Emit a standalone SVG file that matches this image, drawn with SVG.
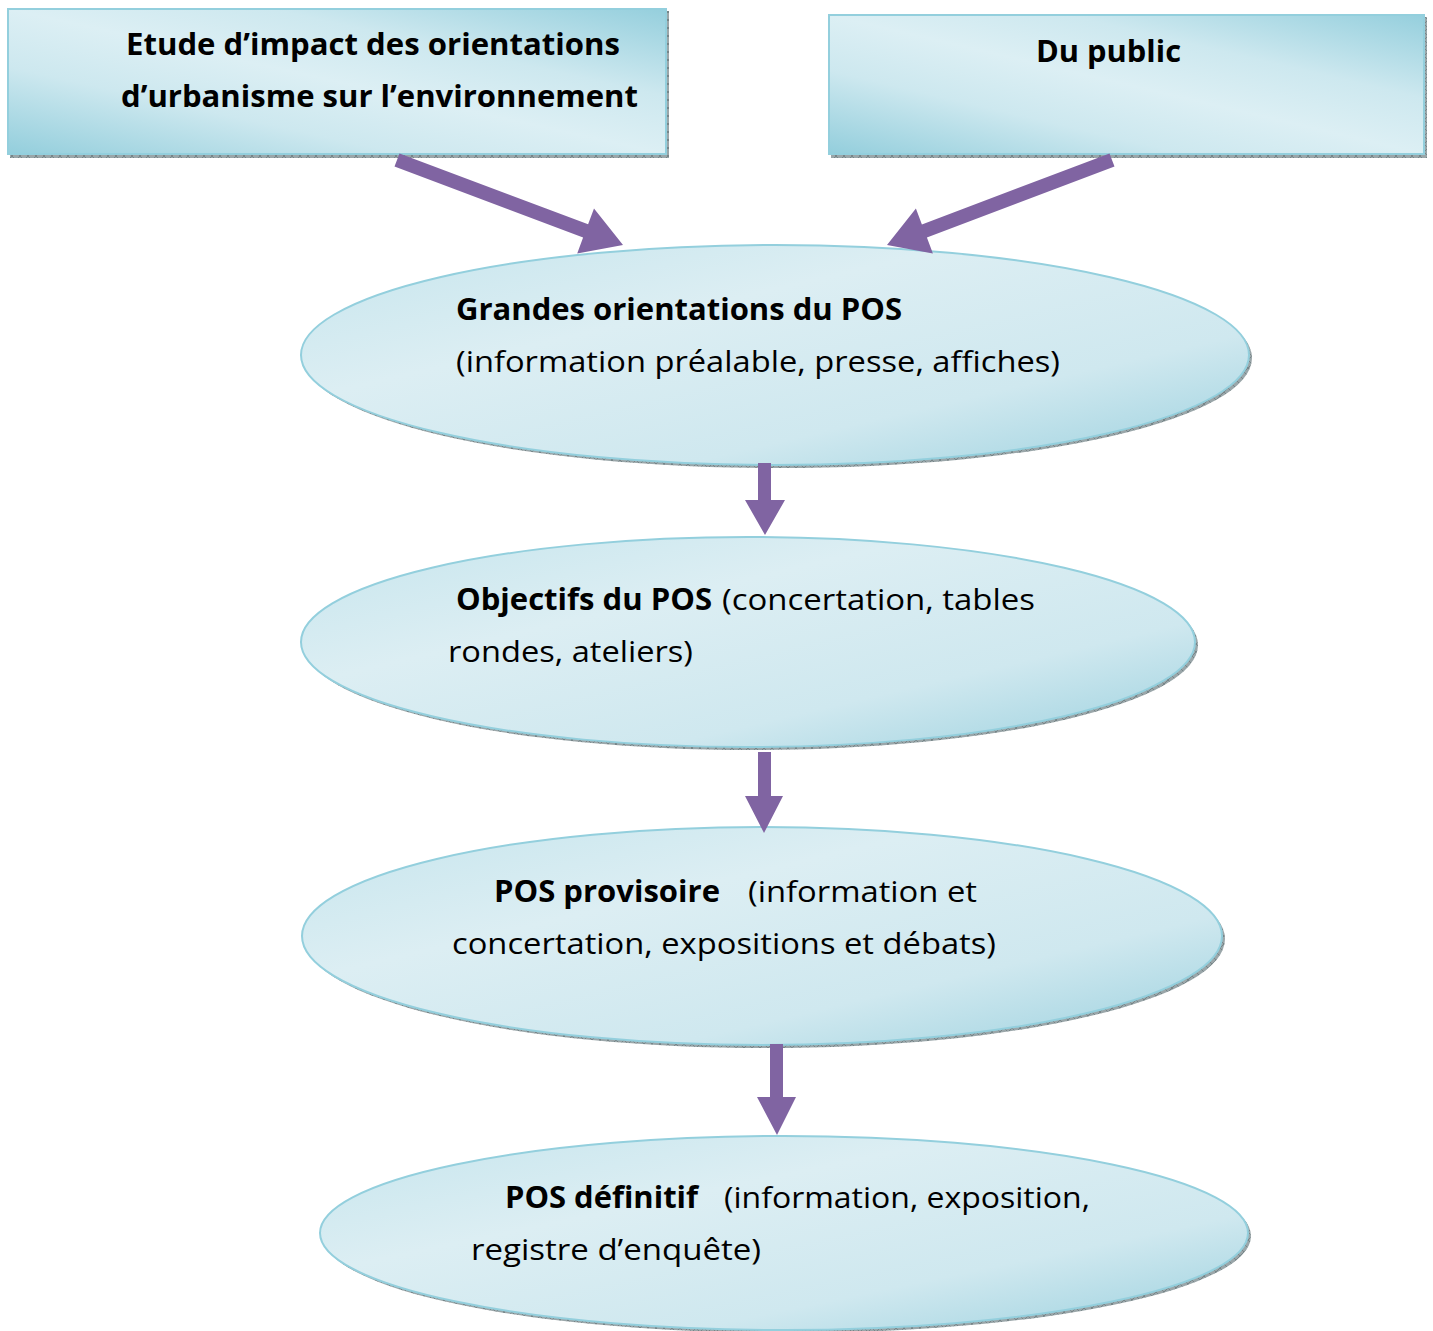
<svg xmlns="http://www.w3.org/2000/svg" width="1433" height="1331" viewBox="0 0 1433 1331">
<style>
.t{font-family:"Open Sans","Noto Sans","Liberation Sans",sans-serif;font-size:30px;fill:#000}
.b{font-weight:bold}
.shape{stroke:#93cfdd;stroke-width:2}
.arr{fill:#8064a2}
</style>
<defs>
<linearGradient id="gBox" x1="0" y1="1" x2="1" y2="0">
<stop offset="0" stop-color="#93cedc"/>
<stop offset="0.3" stop-color="#cde8ef"/>
<stop offset="0.5" stop-color="#dcefF4"/>
<stop offset="0.7" stop-color="#cde8ef"/>
<stop offset="1" stop-color="#95cfdd"/>
</linearGradient>
<linearGradient id="gEl" x1="0" y1="0" x2="1" y2="1">
<stop offset="0" stop-color="#c6e5ed"/>
<stop offset="0.35" stop-color="#dcEEF3"/>
<stop offset="0.7" stop-color="#cfe8ef"/>
<stop offset="1" stop-color="#9ad0de"/>
</linearGradient>
<pattern id="hatch" width="8" height="8" patternUnits="userSpaceOnUse">
<rect width="8" height="8" fill="#9aa6a9"/>
<path d="M0 0L8 8M8 0L0 8" stroke="#6f7c80" stroke-width="0.8"/>
</pattern>
</defs>

<g id="box-etude">
<rect x="10" y="11" width="659" height="147" fill="url(#hatch)"/>
<rect class="shape" x="8" y="9" width="658" height="145" fill="url(#gBox)"/>
<text class="t b" x="126" y="55" textLength="494" lengthAdjust="spacingAndGlyphs">Etude d’impact des orientations</text>
<text class="t b" x="121" y="107" textLength="517" lengthAdjust="spacingAndGlyphs">d’urbanisme sur l’environnement</text>
</g>

<g id="box-public">
<rect x="831" y="17" width="596" height="141" fill="url(#hatch)"/>
<rect class="shape" x="829" y="15" width="595" height="139" fill="url(#gBox)"/>
<text class="t b" x="1036" y="62" textLength="145" lengthAdjust="spacingAndGlyphs">Du public</text>
</g>

<g id="ell-grandes">
<ellipse cx="778" cy="358" rx="474" ry="110" fill="url(#hatch)"/>
<ellipse class="shape" cx="775" cy="355" rx="474" ry="110" fill="url(#gEl)"/>
<text class="t b" x="456" y="320" textLength="446" lengthAdjust="spacingAndGlyphs">Grandes orientations du POS</text>
<text class="t" x="456" y="372" textLength="604" lengthAdjust="spacingAndGlyphs">(information préalable, presse, affiches)</text>
</g>

<g id="ell-objectifs">
<ellipse cx="751" cy="645" rx="447" ry="105" fill="url(#hatch)"/>
<ellipse class="shape" cx="748" cy="642" rx="447" ry="105" fill="url(#gEl)"/>
<text class="t b" x="456" y="610" textLength="256" lengthAdjust="spacingAndGlyphs">Objectifs du POS</text>
<text class="t" x="722" y="610" textLength="313" lengthAdjust="spacingAndGlyphs">(concertation, tables</text>
<text class="t" x="448" y="662" textLength="245" lengthAdjust="spacingAndGlyphs">rondes, ateliers)</text>
</g>

<g id="ell-provisoire">
<ellipse cx="765" cy="939" rx="460" ry="109" fill="url(#hatch)"/>
<ellipse class="shape" cx="762" cy="936" rx="460" ry="109" fill="url(#gEl)"/>
<text class="t b" x="494" y="902" textLength="226" lengthAdjust="spacingAndGlyphs">POS provisoire</text>
<text class="t" x="748" y="902" textLength="229" lengthAdjust="spacingAndGlyphs">(information et</text>
<text class="t" x="452" y="954" textLength="544" lengthAdjust="spacingAndGlyphs">concertation, expositions et débats)</text>
</g>

<g id="ell-definitif">
<ellipse cx="787" cy="1236" rx="464" ry="97" fill="url(#hatch)"/>
<ellipse class="shape" cx="784" cy="1233" rx="464" ry="97" fill="url(#gEl)"/>
<text class="t b" x="505" y="1208" textLength="193" lengthAdjust="spacingAndGlyphs">POS définitif</text>
<text class="t" x="724" y="1208" textLength="366" lengthAdjust="spacingAndGlyphs">(information, exposition,</text>
<text class="t" x="471" y="1260" textLength="290" lengthAdjust="spacingAndGlyphs">registre d’enquête)</text>
</g>

<g id="connectors">
<polygon class="arr" points="399.5,153.5 588.1,224.3 594,208.4 623,245 577.2,253.4 583.1,237.5 394.5,166.6"/>
<polygon class="arr" points="1109.5,153.4 921.9,224.4 915.9,208.4 887,245 932.9,253.4 926.9,237.4 1114.5,166.5"/>
<polygon class="arr" points="758,463 771,463 771,500 785,500 765,535 745,500 758,500"/>
<polygon class="arr" points="758,752 771,752 771,796 783,796 764,833 745,796 758,796"/>
<polygon class="arr" points="770,1044 783,1044 783,1097 796,1097 777,1135 757,1097 770,1097"/>
</g>
</svg>
